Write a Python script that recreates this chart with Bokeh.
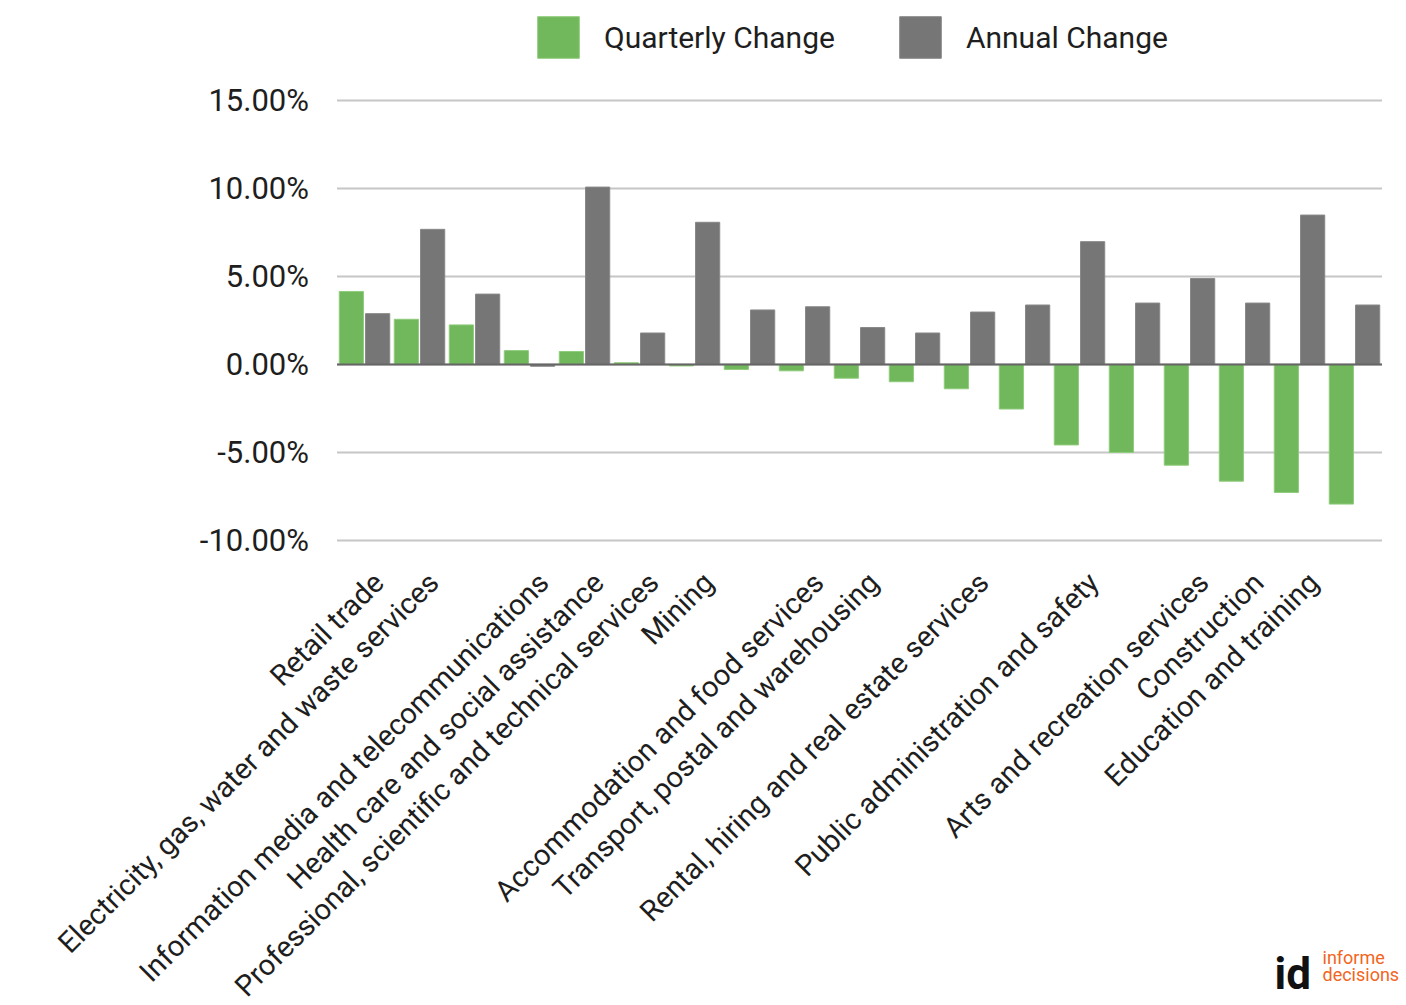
import math
from bokeh.plotting import figure
from bokeh.models import ColumnDataSource, Range1d, Legend, LegendItem, Label
from bokeh.transform import dodge
from bokeh.core.properties import value
from bokeh.embed import file_html
from bokeh.resources import INLINE

categories = [
    "Retail trade",
    "Electricity, gas, water and waste services",
    "Wholesale trade",
    "Information media and telecommunications",
    "Health care and social assistance",
    "Professional, scientific and technical services",
    "Mining",
    "Manufacturing",
    "Accommodation and food services",
    "Transport, postal and warehousing",
    "Financial and insurance services",
    "Rental, hiring and real estate services",
    "Administrative and support services",
    "Public administration and safety",
    "Other services",
    "Arts and recreation services",
    "Construction",
    "Education and training",
    "Agriculture, forestry and fishing",
]
quarterly = [4.15, 2.57, 2.25, 0.79, 0.74, 0.10, -0.08, -0.28, -0.36, -0.78,
             -0.98, -1.38, -2.53, -4.57, -5.00, -5.72, -6.63, -7.27, -7.93]
annual = [2.89, 7.68, 4.00, -0.10, 10.08, 1.79, 8.08, 3.10, 3.28, 2.10,
          1.79, 2.98, 3.38, 6.98, 3.49, 4.89, 3.49, 8.49, 3.38]
# category labels that the original chart leaves out (Excel skipped them)
hidden_labels = ["Wholesale trade", "Manufacturing", "Financial and insurance services",
                 "Administrative and support services", "Other services",
                 "Agriculture, forestry and fishing"]
y_ticks = [-10, -5, 0, 5, 10, 15]
y_tick_labels = [f"{t:.2f}%" for t in y_ticks]

GREEN = "#71b75b"
GRAY = "#767676"
TEXT = "#1e1e1e"
FONT = "Roboto"

# layout (pixels)
W, H = 1406, 1005
FIRST_CENTER_X = 364.0     # canvas x of the first category centre
PX_PER_CAT = 55.0
PX_PER_PCT = 17.6
TOP_Y = 100.0              # canvas y of the top (15%) gridline

n = len(categories)
xs = list(range(n))
shown = ["" if c in hidden_labels else c for c in categories]

x_start = -FIRST_CENTER_X / PX_PER_CAT
x_end = x_start + W / PX_PER_CAT
y_end = y_ticks[-1] + TOP_Y / PX_PER_PCT
y_start = y_end - H / PX_PER_PCT

source = ColumnDataSource(dict(x=xs, q=quarterly, a=annual, label=shown,
                               base=[y_ticks[0]] * n))
tick_src = ColumnDataSource(dict(y=y_ticks, label=y_tick_labels,
                                 x=[-0.5] * len(y_ticks), x1=[n - 0.5] * len(y_ticks)))

p = figure(width=W, height=H, x_range=Range1d(x_start, x_end), y_range=Range1d(y_start, y_end),
           output_backend="svg", toolbar_location=None,
           min_border_left=0, min_border_right=0, min_border_top=0, min_border_bottom=0)
p.outline_line_color = None
p.xaxis.visible = False
p.yaxis.visible = False
p.xgrid.grid_line_color = None
p.ygrid.grid_line_color = None

# horizontal gridlines spanning the category area
p.segment(x0="x", x1="x1", y0="y", y1="y", source=tick_src,
          line_color="#c6c6c6", line_width=2)

# y tick labels
p.text(x="x", y="y", text="label", source=tick_src, x_offset=-28,
       text_align="right", text_baseline="middle",
       text_font=value(FONT), text_font_size="31px", text_color=TEXT)

rq = p.vbar(x=dodge("x", -0.239), top="q", width=0.44, source=source,
            fill_color=GREEN, line_color="#8fcc7c", line_width=1)
ra = p.vbar(x=dodge("x", 0.239), top="a", width=0.44, source=source,
            fill_color=GRAY, line_color="#888888", line_width=1)

# zero baseline
p.segment(x0=[-0.5], x1=[n - 0.5], y0=[0], y1=[0], line_color="#666666", line_width=2)

# category labels (rotated 45 degrees)
p.text(x="x", y="base", text="label", source=source, angle=math.pi / 4,
       text_align="right", text_baseline="middle", x_offset=14, y_offset=37,
       text_font=value(FONT), text_font_size="29px", text_color=TEXT)

legend = Legend(items=[LegendItem(label="Quarterly Change", renderers=[rq]),
                       LegendItem(label="Annual Change", renderers=[ra])],
                orientation="horizontal", location=(532, 942), padding=0, margin=0,
                spacing=59, label_standoff=20, glyph_width=52, glyph_height=52,
                label_text_font=FONT, label_text_font_size="30px",
                label_text_color=TEXT, border_line_color=None,
                background_fill_alpha=0)
p.add_layout(legend, "center")

# logo
p.add_layout(Label(x=1274, y=32, x_units="screen", y_units="screen", text="id",
                   text_font=FONT, text_font_style="bold", text_baseline="alphabetic",
                   text_font_size="44px", text_color="#111111"))
p.add_layout(Label(x=1322, y=48, x_units="screen", y_units="screen", text="informe",
                   text_font=FONT, text_font_size="18px", text_baseline="alphabetic",
                   text_color="#f26522"))
p.add_layout(Label(x=1322, y=31, x_units="screen", y_units="screen", text="decisions",
                   text_font=FONT, text_font_size="18px", text_baseline="alphabetic",
                   text_color="#f26522"))

open("out.html", "w").write(file_html(p, INLINE))
